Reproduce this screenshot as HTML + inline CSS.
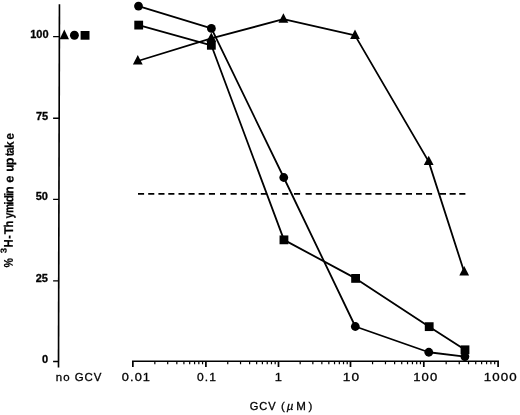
<!DOCTYPE html>
<html><head><meta charset="utf-8">
<style>
html,body{margin:0;padding:0;background:#fff;}
svg{display:block;will-change:transform;opacity:0.999;}
text{font-family:"Liberation Sans",sans-serif;fill:#000;stroke:#000;stroke-width:0.3px;-webkit-font-smoothing:antialiased;}
.yl{font-weight:bold;font-size:11px;text-anchor:end;}
.xl{font-size:11.5px;}
.yt text{font-weight:bold;font-size:12.7px;stroke-width:0.2px;}
</style></head><body>
<svg width="520" height="415" viewBox="0 0 520 415">
<rect width="520" height="415" fill="#fff"/>
<g stroke="#000" fill="none">
<path d="M59.45 4.2L58.5 367.4" stroke-width="1.65"/>
<path d="M53.1 36.60H59.37M53.1 118.20H59.15M53.1 199.40H58.94M53.1 280.90H58.73M53.1 361.50H58.52" stroke-width="1.35"/>
<path d="M132 361.2H499" stroke-width="1.5"/>
<path d="M132.85 361.20V367M205.90 361.20V367M278.50 361.20V367M350.50 361.20V367M423.80 361.20V367M498.10 361.20V367" stroke-width="1.7"/>
<path d="M154.84 361.20V364.30M167.70 361.20V364.30M176.83 361.20V364.30M183.91 361.20V364.30M189.69 361.20V364.30M194.58 361.20V364.30M198.82 361.20V364.30M202.56 361.20V364.30M227.75 361.20V364.30M240.54 361.20V364.30M249.61 361.20V364.30M256.65 361.20V364.30M262.39 361.20V364.30M267.25 361.20V364.30M271.46 361.20V364.30M275.18 361.20V364.30M300.17 361.20V364.30M312.85 361.20V364.30M321.85 361.20V364.30M328.83 361.20V364.30M334.53 361.20V364.30M339.35 361.20V364.30M343.52 361.20V364.30M347.21 361.20V364.30M372.57 361.20V364.30M385.47 361.20V364.30M394.63 361.20V364.30M401.73 361.20V364.30M407.54 361.20V364.30M412.45 361.20V364.30M416.70 361.20V364.30M420.45 361.20V364.30M446.17 361.20V364.30M459.25 361.20V364.30M468.53 361.20V364.30M475.73 361.20V364.30M481.62 361.20V364.30M486.59 361.20V364.30M490.90 361.20V364.30M494.70 361.20V364.30" stroke-width="1.2"/>
<path d="M138.0 193.9h6.1M148.2 193.9h6.1M158.4 193.9h6.1M168.3 193.9h6.1M178.5 193.9h6.1M188.5 193.9h6.1M198.6 193.9h6.1M208.9 193.9h6.1M220.0 193.9h6.1M230.6 193.9h6.1M240.8 193.9h6.1M250.8 193.9h6.1M260.8 193.9h6.1M270.9 193.9h6.1M282.2 193.9h6.1M294.0 193.9h6.1M305.6 193.9h6.1M315.8 193.9h6.1M325.7 193.9h6.1M335.5 193.9h6.1M345.6 193.9h6.1M355.4 193.9h6.1M365.4 193.9h6.1M375.4 193.9h6.1M385.6 193.9h6.1M395.7 193.9h6.1M405.9 193.9h6.1M416.0 193.9h6.1M426.0 193.9h6.1M439.9 193.9h6.1M449.6 193.9h6.1M459.3 193.9h6.1" stroke-width="1.75"/>
</g>
<g stroke="#000" stroke-width="1.8" fill="none" stroke-linejoin="round">
<polyline points="138.50,6.10 211.40,28.40 283.75,177.50 355.30,326.50 428.80,352.25 464.90,356.60"/>
<polyline points="138.70,25.10 211.35,45.30 283.95,239.85 355.60,278.40 429.20,326.65 465.00,349.80"/>
<polyline points="137.80,61.00 211.30,38.30 283.40,19.20 355.00,35.40 428.70,161.60 464.20,272.00"/>
</g>
<g fill="#000">
<circle cx="138.50" cy="6.10" r="4.40"/><circle cx="211.40" cy="28.40" r="4.40"/><circle cx="283.75" cy="177.50" r="4.40"/><circle cx="355.30" cy="326.50" r="4.40"/><circle cx="428.80" cy="352.25" r="4.40"/><circle cx="464.90" cy="356.60" r="4.40"/>
<rect x="134.30" y="20.70" width="8.80" height="8.80"/><rect x="206.95" y="40.90" width="8.80" height="8.80"/><rect x="279.55" y="235.45" width="8.80" height="8.80"/><rect x="351.20" y="274.00" width="8.80" height="8.80"/><rect x="424.80" y="322.25" width="8.80" height="8.80"/><rect x="460.60" y="345.40" width="8.80" height="8.80"/>
<path d="M137.80 55.10L142.70 64.50H132.90Z"/><path d="M211.30 32.40L216.20 41.80H206.40Z"/><path d="M283.40 13.30L288.30 22.70H278.50Z"/><path d="M355.00 29.50L359.90 38.90H350.10Z"/><path d="M428.70 155.70L433.60 165.10H423.80Z"/><path d="M464.20 266.10L469.10 275.50H459.30Z"/>
<path d="M64.30 29.40L69.00 39.20H59.60Z"/><circle cx="74.4" cy="35.25" r="4.45"/><rect x="80.6" y="31.0" width="8.9" height="8.7"/>
</g>
<text class="yl" x="48.5" y="38.0">100</text>
<text class="yl" x="48.2" y="120.0">75</text>
<text class="yl" x="48.0" y="200.3">50</text>
<text class="yl" x="48.0" y="281.9">25</text>
<text class="yl" x="48.0" y="362.5">0</text>
<text class="xl" style="font-size:11.5px;letter-spacing:1.0px" transform="translate(55.79 381.40) scale(0.996 1)">no GCV</text><text class="xl" style="font-size:11.5px;letter-spacing:1.0px" transform="translate(121.75 381.40) scale(1.112 1)">0.01</text><text class="xl" style="font-size:11.5px;letter-spacing:1.0px" transform="translate(197.08 381.40) scale(1.049 1)">0.1</text><text class="xl" style="font-size:11.5px;letter-spacing:1.0px" transform="translate(274.74 381.40) scale(1.120 1)">1</text><text class="xl" style="font-size:11.5px;letter-spacing:1.0px" transform="translate(342.81 381.40) scale(1.187 1)">10</text><text class="xl" style="font-size:11.5px;letter-spacing:1.0px" transform="translate(413.15 381.40) scale(1.138 1)">100</text><text class="xl" style="font-size:11.5px;letter-spacing:1.0px" transform="translate(483.63 381.40) scale(1.159 1)">1000</text><text class="xl" style="font-size:11.5px;letter-spacing:1.0px" transform="translate(249.69 409.80) scale(0.962 1)">GCV</text><text class="xl"  x="280.96" y="409.80">(</text><text class="xl" font-style="italic" x="286.83" y="409.80">µ</text><text class="xl"  x="296.21" y="409.80">M</text><text class="xl"  x="308.41" y="409.80">)</text>
<g class="yt" transform="translate(12.65 268.00) rotate(-89.50)"><text transform="translate(0.39 0) scale(0.827 1)">%</text><text transform="translate(20.60 0) scale(0.884 1)">H</text><text transform="translate(29.32 0) scale(0.820 1)">-</text><text transform="translate(33.72 0) scale(0.923 1)">T</text><text transform="translate(40.48 0) scale(0.871 1)">h</text><text transform="translate(49.59 0) scale(0.820 1)">y</text><text transform="translate(54.95 0) scale(0.820 1)">m</text><text transform="translate(63.03 0) scale(1.033 1)">i</text><text transform="translate(65.77 0) scale(0.922 1)">d</text><text transform="translate(71.73 0) scale(1.033 1)">i</text><text transform="translate(74.16 0) scale(0.946 1)">n</text><text transform="translate(85.25 0) scale(1.011 1)">e</text><text transform="translate(96.32 0) scale(0.929 1)">u</text><text transform="translate(102.40 0) scale(1.016 1)">p</text><text transform="translate(112.02 0) scale(0.820 1)">t</text><text transform="translate(114.77 0) scale(0.820 1)">a</text><text transform="translate(119.93 0) scale(0.921 1)">k</text><text transform="translate(128.28 0) scale(0.946 1)">e</text><text transform="translate(14.64 -6.3) scale(1.12 1)" style="font-size:8.6px">3</text></g>
</svg>
</body></html>
